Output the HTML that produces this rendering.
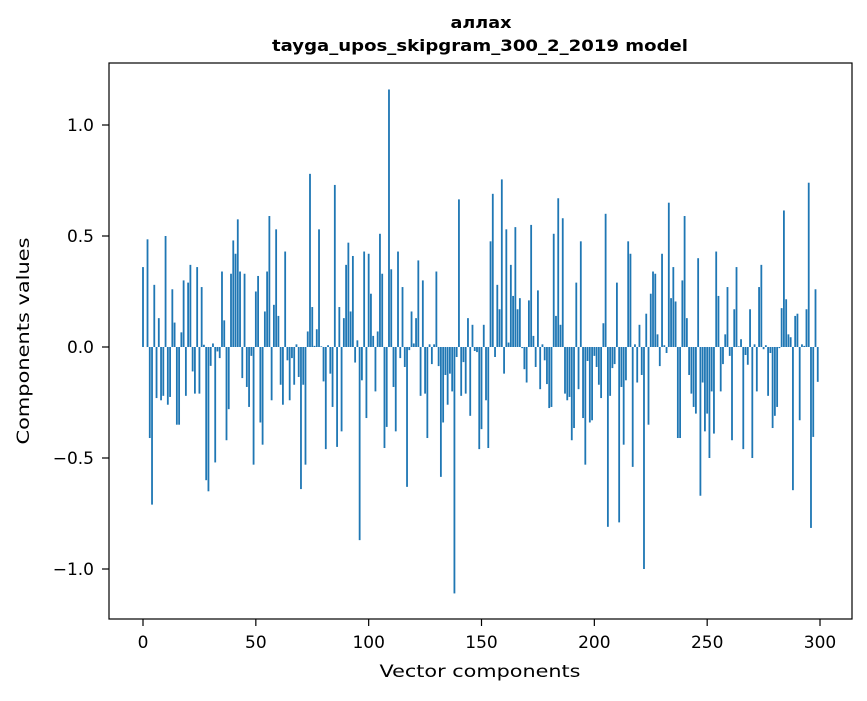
<!DOCTYPE html>
<html><head><meta charset="utf-8"><style>
body{margin:0;background:#fff}
svg text{font-family:"DejaVu Sans","Liberation Sans",sans-serif;fill:#000}
</style></head><body>
<svg id="chart" width="867" height="696" viewBox="0 0 867 696" xmlns="http://www.w3.org/2000/svg">
<rect width="867" height="696" fill="#fff"/>
<text x="481" y="28" text-anchor="middle" font-size="16" font-weight="bold" textLength="61" lengthAdjust="spacingAndGlyphs">аллах</text>
<text x="480" y="51" text-anchor="middle" font-size="16" font-weight="bold" textLength="416" lengthAdjust="spacingAndGlyphs">tayga_upos_skipgram_300_2_2019 model</text>
<g id="bars"></g>
<g id="axes"></g>
<text x="480" y="677" text-anchor="middle" font-size="17" textLength="201" lengthAdjust="spacingAndGlyphs">Vector components</text>
<text transform="translate(29,341) rotate(-90)" text-anchor="middle" font-size="17" textLength="207" lengthAdjust="spacingAndGlyphs">Components values</text>
</svg>
<script>
const values = [0.36,0,0.485,-0.41,-0.71,0.28,-0.23,0.13,-0.24,-0.22,
0.50,-0.26,-0.225,0.26,0.11,-0.35,-0.35,0.066,0.30,-0.22,
0.29,0.37,-0.11,-0.21,0.36,-0.21,0.27,0.01,-0.60,-0.65,
-0.085,0.016,-0.52,-0.02,-0.05,0.34,0.12,-0.42,-0.28,0.33,
0.48,0.42,0.575,0.34,-0.14,0.33,-0.18,-0.27,-0.04,-0.53,
0.25,0.32,-0.34,-0.44,0.16,0.34,0.59,-0.24,0.19,0.53,
0.14,-0.17,-0.26,0.43,-0.06,-0.24,-0.05,-0.17,0.012,-0.135,
-0.64,-0.17,-0.53,0.07,0.78,0.18,0.005,0.08,0.53,0.003,
-0.155,-0.46,0.008,-0.12,-0.27,0.73,-0.45,0.18,-0.38,0.13,
0.37,0.47,0.16,0.41,-0.07,0.03,-0.87,-0.15,0.43,-0.32,
0.42,0.24,0.05,-0.20,0.07,0.51,0.33,-0.455,-0.36,1.16,
0.35,-0.18,-0.38,0.43,-0.05,0.27,-0.09,-0.63,-0.014,0.16,
0.016,0.13,0.39,-0.22,0.30,-0.21,-0.41,0.012,-0.077,0.012,
0.34,-0.086,-0.585,-0.34,-0.126,-0.26,-0.12,-0.20,-1.11,-0.045,
0.665,-0.22,-0.068,-0.21,0.13,-0.31,0.10,-0.018,-0.023,-0.46,
-0.37,0.10,-0.24,-0.455,0.476,0.69,-0.045,0.28,0.17,0.755,
-0.12,0.53,0.02,0.37,0.23,0.54,0.17,0.22,-0.005,-0.10,
-0.16,0.21,0.55,0.05,-0.09,0.255,-0.19,0.012,-0.06,-0.167,
-0.275,-0.27,0.51,0.14,0.67,0.10,0.58,-0.21,-0.24,-0.225,
-0.42,-0.365,0.29,-0.19,0.476,-0.32,-0.53,-0.063,-0.34,-0.33,
-0.04,-0.09,-0.17,-0.23,0.107,0.60,-0.81,-0.22,-0.095,-0.077,
0.29,-0.79,-0.18,-0.44,-0.15,0.476,0.42,-0.54,0.012,-0.16,
0.10,-0.126,-1.00,0.15,-0.35,0.24,0.34,0.33,0.057,-0.086,
0.42,0.008,-0.027,0.65,0.22,0.36,0.205,-0.41,-0.41,0.30,
0.59,0.13,-0.126,-0.21,-0.27,-0.30,0.40,-0.67,-0.16,-0.38,
-0.30,-0.50,-0.20,-0.39,0.43,0.23,-0.20,-0.077,0.057,0.27,
-0.04,-0.42,0.17,0.36,0.003,0.035,-0.46,-0.036,-0.08,0.17,
-0.50,0.012,-0.20,0.27,0.37,-0.01,0.008,-0.22,-0.027,-0.365,
-0.31,-0.27,-0.005,0.175,0.615,0.215,0.057,0.044,-0.645,0.14,
0.15,-0.33,0.012,0.005,0.17,0.74,-0.815,-0.405,0.26,-0.157];
const xTicks = [0,50,100,150,200,250,300];
const yTicks = [-1.0,-0.5,0.0,0.5,1.0];
const yTickLabels = ["\u22121.0","\u22120.5","0.0","0.5","1.0"];

const NS="http://www.w3.org/2000/svg";
const L=109,R=852,T=63,B=619;
const xs = v => 143 + v*2.2567;
const ys = v => 347 - v*222;
const barsG=document.getElementById('bars');
values.forEach((v,i)=>{
  const r=document.createElementNS(NS,'rect');
  const w=0.8*2.2567;
  r.setAttribute('x',xs(i)-w/2);
  r.setAttribute('width',w);
  r.setAttribute('y',Math.min(ys(v),ys(0)));
  r.setAttribute('height',Math.abs(ys(v)-ys(0)));
  r.setAttribute('fill','#1f77b4');
  
  
  barsG.appendChild(r);
});
const ax=document.getElementById('axes');
const frame=document.createElementNS(NS,'rect');
frame.setAttribute('x',L);frame.setAttribute('y',T);
frame.setAttribute('width',R-L);frame.setAttribute('height',B-T);
frame.setAttribute('fill','none');frame.setAttribute('stroke','#000');frame.setAttribute('stroke-width','1.2');


ax.appendChild(frame);
xTicks.forEach(t=>{
  const l=document.createElementNS(NS,'line');
  l.setAttribute('x1',xs(t));l.setAttribute('x2',xs(t));l.setAttribute('y1',B);l.setAttribute('y2',B+7);
  l.setAttribute('stroke','#000');l.setAttribute('stroke-width','1.2');
  
  
  ax.appendChild(l);
  const tx=document.createElementNS(NS,'text');
  tx.setAttribute('x',xs(t));tx.setAttribute('y',B+29);tx.setAttribute('text-anchor','middle');tx.setAttribute('font-size','17');
  tx.textContent=t;
  
  
  ax.appendChild(tx);
});
yTicks.forEach((t,k)=>{
  const l=document.createElementNS(NS,'line');
  l.setAttribute('x1',L-7);l.setAttribute('x2',L);l.setAttribute('y1',ys(t));l.setAttribute('y2',ys(t));
  l.setAttribute('stroke','#000');l.setAttribute('stroke-width','1.2');
  
  
  ax.appendChild(l);
  const tx=document.createElementNS(NS,'text');
  tx.setAttribute('x',L-15);tx.setAttribute('y',ys(t)+6);tx.setAttribute('text-anchor','end');tx.setAttribute('font-size','17');
  tx.textContent=yTickLabels[k];
  
  
  ax.appendChild(tx);
});
</script>
</body></html>
